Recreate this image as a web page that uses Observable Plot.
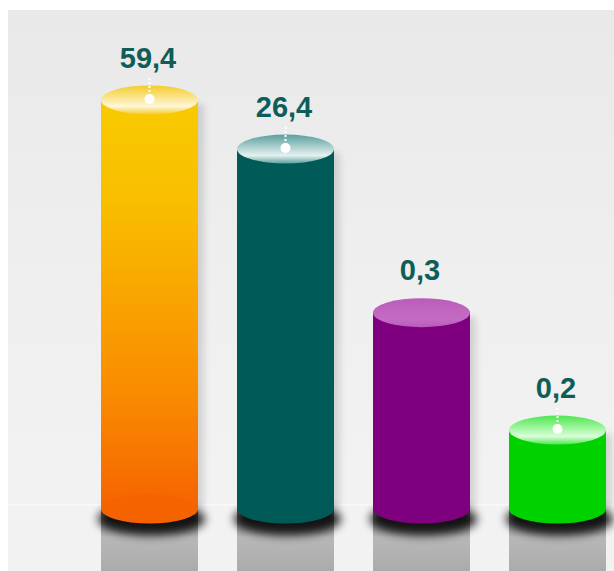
<!DOCTYPE html>
<html>
<head>
<meta charset="utf-8">
<script src="https://cdn.jsdelivr.net/npm/d3@7"></script>
<script src="https://cdn.jsdelivr.net/npm/@observablehq/plot@0.6"></script>
<style>
  html, body { margin: 0; padding: 0; background: #ffffff; }
  #chart svg { display: block; }
</style>
</head>
<body>
<div id="chart"></div>
<script>
// ---- data ----
const categories = ["c1", "c2", "c3", "c4"];
const values = [59.4, 26.4, 0.3, 0.2];
const labels = ["59,4", "26,4", "0,3", "0,2"];
// drawn column heights as they appear in the picture (the original is not to scale), 0–100
const levels = [100, 88, 48, 19.3];
const pinned = [true, true, false, true];

// ---- colours ----
const bodyStops = [
  [[0, "#f8ca00"], [0.25, "#f9be00"], [0.73, "#f98a00"], [1, "#f56300"]],
  [[0, "#005a58"], [1, "#005a58"]],
  [[0, "#7e007e"], [1, "#7e007e"]],
  [[0, "#00d200"], [1, "#00d200"]]
];
const bodyBottomColors = ["#f56300", "#005a58", "#7e007e", "#00d200"];
const capEdgeColors = ["#f4cc2a", "#5a9f9d", "#bb5cbb", "#4fe64f"];
const capMidColors = ["#fff7d8", "#e4f1f0", "#c46cc4", "#d8ffd8"];
const labelColor = "#0d5e59";

const data = categories.map((c, i) => ({
  cat: c, value: values[i], label: labels[i], level: levels[i], pin: pinned[i], i
}));

const W = 614, H = 571;

function defsMark(index, scales, vals, dims) {
  const defs = d3.create("svg:defs");
  const bg = defs.append("linearGradient").attr("id", "bg").attr("x1", 0).attr("y1", 0).attr("x2", 0).attr("y2", 1);
  bg.append("stop").attr("offset", 0).attr("stop-color", "#e9e9e9");
  bg.append("stop").attr("offset", 0.5).attr("stop-color", "#efefef");
  bg.append("stop").attr("offset", 1).attr("stop-color", "#f3f3f3");
  const rf = defs.append("linearGradient").attr("id", "refl").attr("x1", 0).attr("y1", 0).attr("x2", 0).attr("y2", 1);
  rf.append("stop").attr("offset", 0).attr("stop-color", "#5a5a5a");
  rf.append("stop").attr("offset", 0.45).attr("stop-color", "#b8b8b8");
  rf.append("stop").attr("offset", 1).attr("stop-color", "#ababab");
  const blur = defs.append("filter").attr("id", "blur").attr("x", "-50%").attr("y", "-50%").attr("width", "200%").attr("height", "200%");
  blur.append("feGaussianBlur").attr("stdDeviation", 5);
  const blur2 = defs.append("filter").attr("id", "blur2").attr("x", "-50%").attr("y", "-50%").attr("width", "200%").attr("height", "200%");
  blur2.append("feGaussianBlur").attr("stdDeviation", 3);
  data.forEach(d => {
    const b = defs.append("linearGradient").attr("id", "body" + d.i).attr("x1", 0).attr("y1", 0).attr("x2", 0).attr("y2", 1);
    bodyStops[d.i].forEach(([o, c]) => b.append("stop").attr("offset", o).attr("stop-color", c));
    const c = defs.append("linearGradient").attr("id", "cap" + d.i).attr("x1", 0).attr("y1", 0).attr("x2", 0).attr("y2", 1);
    c.append("stop").attr("offset", 0).attr("stop-color", capEdgeColors[d.i]);
    c.append("stop").attr("offset", 0.72).attr("stop-color", capMidColors[d.i]);
    c.append("stop").attr("offset", 1).attr("stop-color", capEdgeColors[d.i]);
  });
  return defs.node();
}

function backgroundMark(index, scales, vals, dims) {
  const g = d3.create("svg:g");
  const base = scales.y(0);
  g.append("rect").attr("x", 8).attr("y", 10).attr("width", dims.width - 8).attr("height", dims.height - 10).attr("fill", "url(#bg)");
  g.append("rect").attr("x", 8).attr("y", base - 4).attr("width", dims.width - 8).attr("height", dims.height - base + 4).attr("fill", "#f2f2f2");
  g.append("line").attr("x1", 8).attr("x2", dims.width).attr("y1", base - 4).attr("y2", base - 4).attr("stroke", "#fafafa").attr("stroke-width", 1.5);
  return g.node();
}

function cylinderMark(index, scales, vals, dims) {
  const g = d3.create("svg:g");
  const x = scales.x, y = scales.y;
  const bw = x.bandwidth();
  const ry = 14.5;
  const base = y(0);
  data.forEach(d => {
    const x0 = x(d.cat), cx = x0 + bw / 2, rx = bw / 2;
    const top = y(d.level);
    // reflection on the floor
    g.append("rect").attr("x", x0).attr("y", base).attr("width", bw).attr("height", dims.height - base).attr("fill", "url(#refl)");
    // soft side shadow
    g.append("rect").attr("x", x0 + 6).attr("y", top + 4).attr("width", bw).attr("height", base - top - 4)
      .attr("fill", "#000").attr("opacity", 0.12).attr("filter", "url(#blur2)");
    // soft base shadow
    g.append("ellipse").attr("cx", cx + 2).attr("cy", base + 10).attr("rx", rx + 5).attr("ry", ry + 2)
      .attr("fill", "#000").attr("opacity", 0.85).attr("filter", "url(#blur)");
    // body
    g.append("rect").attr("x", x0).attr("y", top).attr("width", bw).attr("height", base - top).attr("fill", "url(#body" + d.i + ")");
    g.append("ellipse").attr("cx", cx).attr("cy", base).attr("rx", rx).attr("ry", ry).attr("fill", bodyBottomColors[d.i]);
    // cap
    g.append("ellipse").attr("cx", cx).attr("cy", top).attr("rx", rx).attr("ry", ry).attr("fill", "url(#cap" + d.i + ")");
    if (d.pin) {
      g.append("line").attr("x1", cx).attr("x2", cx).attr("y1", top - 22).attr("y2", top - 2)
        .attr("stroke", "#ffffff").attr("stroke-width", 2).attr("stroke-dasharray", "2,2");
      g.append("circle").attr("cx", cx).attr("cy", top - 1).attr("r", 5).attr("fill", "#ffffff");
    }
  });
  return g.node();
}

const chart = Plot.plot({
  width: W,
  height: H,
  margin: 0,
  x: { type: "band", domain: categories, range: [100, 607], paddingInner: 0.29, paddingOuter: 0, axis: null },
  y: { type: "linear", domain: [0, 100], range: [509, 100], axis: null },
  style: { background: "#ffffff" },
  marks: [
    defsMark,
    backgroundMark,
    cylinderMark,
    Plot.text(data, {
      x: "cat", y: "level", text: "label", dy: -42, dx: -2,
      fontSize: 29, fontWeight: "bold", fill: labelColor,
      fontFamily: "Liberation Sans, Arial, sans-serif"
    })
  ]
});
document.getElementById("chart").appendChild(chart);
</script>
</body>
</html>
